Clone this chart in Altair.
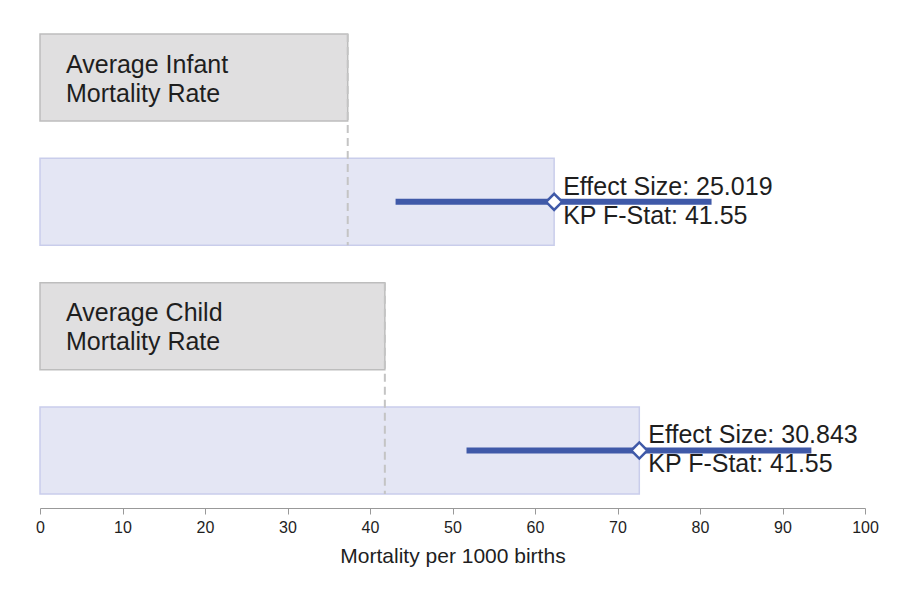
import altair as alt
import pandas as pd

# Rows of the chart, top to bottom
rows = ["infant_avg", "infant_est", "child_avg", "child_est"]

# Average mortality rates (per 1000 births)
avg_labels = ["Average Infant\nMortality Rate", "Average Child\nMortality Rate"]
avg_rates = [37.3, 41.8]

# Estimated effect sizes, their confidence limits and first-stage F statistics
effect_sizes = [25.019, 30.843]
ci_low = [43.1, 51.7]
ci_high = [81.4, 93.5]
kp_fstat = [41.55, 41.55]

avg_df = pd.DataFrame({
    "row": [rows[0], rows[2]],
    "row_end": [rows[1], rows[3]],
    "rate": avg_rates,
    "label": avg_labels,
    "zero": [0, 0],
})

est_df = pd.DataFrame({
    "row": [rows[1], rows[3]],
    "base": avg_rates,
    "effect": effect_sizes,
    "lo": ci_low,
    "hi": ci_high,
    "fstat": kp_fstat,
})
est_df["total"] = est_df["base"] + est_df["effect"]
est_df["text"] = [
    f"Effect Size: {e:.3f}\nKP F-Stat: {f:.2f}" for e, f in zip(est_df["effect"], est_df["fstat"])
]

FONT = "Liberation Sans"
BLUE = "#3f59a8"
INK = "#1e1e1e"

xscale = alt.Scale(domain=[0, 100], nice=False, zero=True)
yscale = alt.Scale(domain=rows, paddingInner=0.3, paddingOuter=0.1125)

x_axis = alt.Axis(values=list(range(0, 101, 10)), title="Mortality per 1000 births")
y_enc = alt.Y("row:N", scale=yscale, axis=None)

avg_bars = alt.Chart(avg_df).mark_bar(
    color="#e0dfe0", stroke="#bdbdbd", strokeWidth=1.5
).encode(
    x=alt.X("rate:Q", scale=xscale, axis=x_axis),
    x2=alt.datum(0),
    y=y_enc,
)

est_bars = alt.Chart(est_df).mark_bar(
    color="#e4e6f4", stroke="#c9cdeb", strokeWidth=1.5
).encode(
    x=alt.X("total:Q", scale=xscale, axis=x_axis),
    x2=alt.datum(0),
    y=y_enc,
)

ref_lines = alt.Chart(avg_df).mark_rule(
    color="#c4c4c4", strokeWidth=2, strokeDash=[8, 5]
).encode(
    x=alt.X("rate:Q", scale=xscale, axis=x_axis),
    y=alt.Y("row:N", scale=yscale, axis=None, bandPosition=0),
    y2=alt.Y2("row_end:N", bandPosition=1),
)

avg_text = alt.Chart(avg_df).mark_text(
    align="left", baseline="middle", dx=26, dy=-13, font=FONT, fontSize=25,
    color=INK, lineBreak="\n", lineHeight=29
).encode(
    x=alt.X("zero:Q", scale=xscale, axis=x_axis),
    y=y_enc,
    text="label:N",
)

ci_rules = alt.Chart(est_df).mark_rule(color=BLUE, strokeWidth=6).encode(
    x=alt.X("lo:Q", scale=xscale, axis=x_axis),
    x2="hi:Q",
    y=y_enc,
)

points = alt.Chart(est_df).mark_point(
    shape="diamond", size=260, filled=True, fill="white", stroke=BLUE, strokeWidth=2.5,
    opacity=1
).encode(
    x=alt.X("total:Q", scale=xscale, axis=x_axis),
    y=y_enc,
)

est_text = alt.Chart(est_df).mark_text(
    align="left", baseline="middle", dx=9, dy=-15, font=FONT, fontSize=25,
    color=INK, lineBreak="\n", lineHeight=29
).encode(
    x=alt.X("total:Q", scale=xscale, axis=x_axis),
    y=y_enc,
    text="text:N",
)

chart = alt.layer(
    avg_bars, est_bars, ref_lines, ci_rules, points, avg_text, est_text
).properties(
    width=825, height=488,
    autosize=alt.AutoSizeParams(type="none"),
    padding={"left": 40, "top": 20, "right": 35, "bottom": 92},
).configure_view(
    stroke=None
).configure_axisX(
    domainColor="#999999", tickColor="#999999", tickSize=6, grid=False,
    labelFlush=False, labelFont=FONT, labelFontSize=16, labelColor=INK, labelPadding=5,
    titleFont=FONT, titleFontSize=21, titleFontWeight="normal", titleColor=INK,
    titlePadding=10,
)

chart.save("out.html", embed_options={"renderer": "svg", "actions": False})
